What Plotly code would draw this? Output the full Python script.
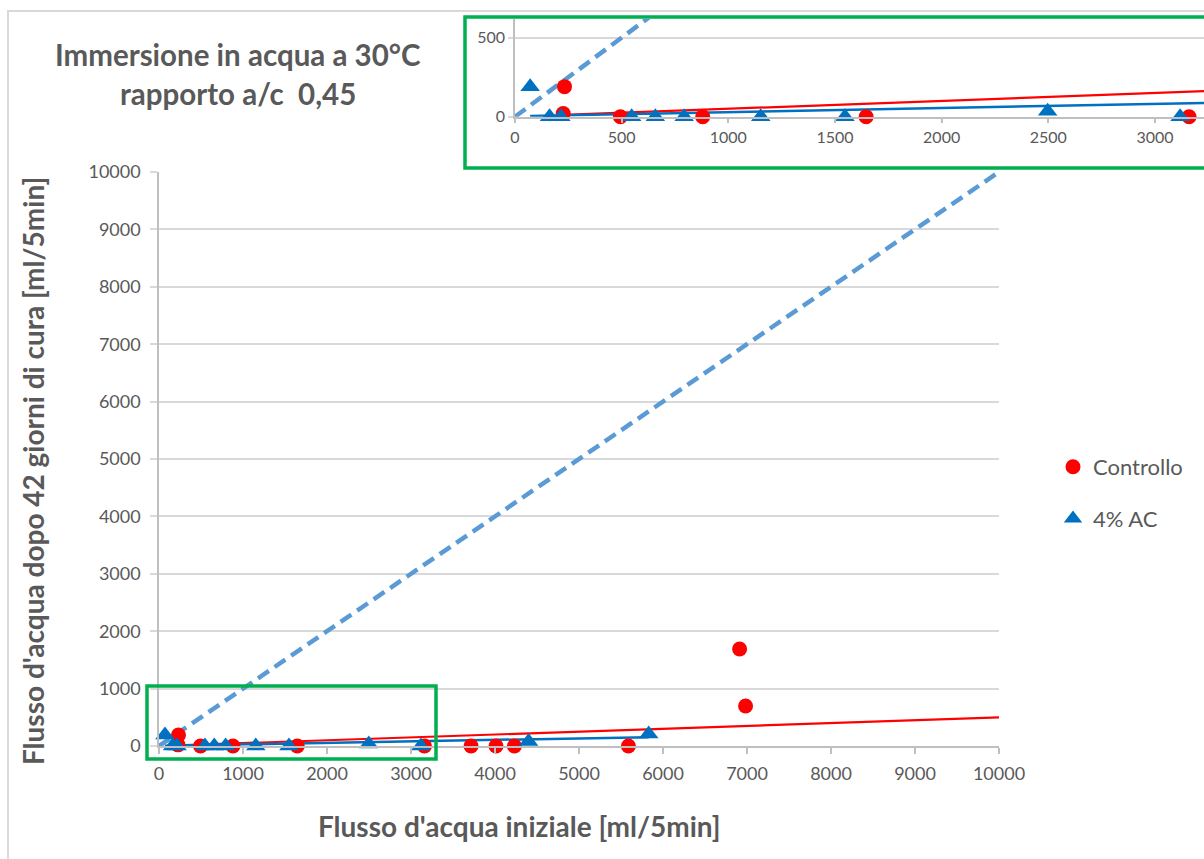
import plotly.graph_objects as go

# --- data -----------------------------------------------------------------
controllo_x = [232, 226, 494, 880, 1646, 3160, 3715, 4012, 4231, 5588, 6912, 6983]
controllo_y = [190, 20, 0, 0, 0, 0, 0, 0, 0, 0, 1690, 698]

ac_x = [71, 162, 215, 547, 658, 793, 1152, 1547, 2497, 3118, 4400, 5830]
ac_y = [190, 0, 0, 0, 0, 0, 0, 0, 35, 0, 80, 210]

# linear trend lines (slope, intercept) and their x extent
controllo_trend = (0.05, 0.0)
controllo_trend_x = [226, 10000]
ac_trend = (0.026, 3.0)
ac_trend_x = [71, 5830]

# 1:1 reference line
bisector_x = [0, 10000]
bisector_y = [0, 10000]

main_ticks = [0, 1000, 2000, 3000, 4000, 5000, 6000, 7000, 8000, 9000, 10000]
inset_xticks = [0, 500, 1000, 1500, 2000, 2500, 3000]
inset_yticks = [0, 500]

# --- styling --------------------------------------------------------------
W, H = 1204, 859
RED = "#FF0000"
BLUE = "#0070C0"
DASH_BLUE = "#5B9BD5"
GREEN = "#00B050"
TXT = "#595959"
GRID = "#D9D9D9"
AXIS = "#BFBFBF"
FONT = "Lato"


def px_x(p):
    """pixel column -> paper fraction"""
    return p / W


def px_y(p):
    """pixel row -> paper fraction"""
    return (H - p) / H


def trend(coef, xs):
    a, b = coef
    return [a * x + b for x in xs]


fig = go.Figure()

for suffix, show in (("", True), ("2", False)):
    xa, ya = "x" + suffix, "y" + suffix
    fig.add_trace(go.Scatter(
        x=bisector_x, y=bisector_y, mode="lines", xaxis=xa, yaxis=ya,
        line=dict(color=DASH_BLUE, width=4.5, dash="13px,7px"),
        showlegend=False, hoverinfo="skip"))
    fig.add_trace(go.Scatter(
        x=controllo_trend_x, y=trend(controllo_trend, controllo_trend_x),
        mode="lines", xaxis=xa, yaxis=ya,
        line=dict(color=RED, width=2.2), showlegend=False, hoverinfo="skip"))
    fig.add_trace(go.Scatter(
        x=ac_trend_x, y=trend(ac_trend, ac_trend_x),
        mode="lines", xaxis=xa, yaxis=ya,
        line=dict(color=BLUE, width=2.5), showlegend=False, hoverinfo="skip"))
    fig.add_trace(go.Scatter(
        x=controllo_x, y=controllo_y, mode="markers", name="Controllo",
        xaxis=xa, yaxis=ya, cliponaxis=False, showlegend=show,
        legendgroup="c", marker=dict(symbol="circle", size=15, color=RED)))
    fig.add_trace(go.Scatter(
        x=ac_x, y=ac_y, mode="markers", name="4% AC",
        xaxis=xa, yaxis=ya, cliponaxis=False, showlegend=show,
        legendgroup="a", marker=dict(symbol="triangle-up", size=17, color=BLUE)))

tickfont = dict(family=FONT, size=18, color=TXT)
inset_tickfont = dict(family=FONT, size=16, color=TXT)

fig.update_layout(
    width=W, height=H,
    margin=dict(l=0, r=0, t=0, b=0, autoexpand=False),
    paper_bgcolor="white", plot_bgcolor="rgba(0,0,0,0)",
    font=dict(family=FONT, color=TXT),
    xaxis=dict(
        domain=[px_x(159), px_x(999)], range=[0, 10000], anchor="y",
        tickvals=main_ticks, tickformat="d", showgrid=False, zeroline=False,
        showline=True, linecolor=AXIS, linewidth=1.5,
        ticks="outside", ticklen=6, tickcolor=AXIS, tickwidth=1.5,
        ticklabelstandoff=5, tickfont=tickfont, automargin=False),
    yaxis=dict(
        domain=[px_y(746), px_y(172)], range=[0, 10000], anchor="x",
        tickvals=main_ticks, tickformat="d", showgrid=True, gridcolor=GRID,
        gridwidth=1.5, zeroline=False, showline=True, linecolor=AXIS,
        linewidth=1.5, ticks="outside", ticklen=7, tickcolor=GRID,
        tickwidth=1.5, ticklabelstandoff=6, tickfont=tickfont,
        automargin=False),
    xaxis2=dict(
        domain=[px_x(515), 1.0], range=[0, 3230], anchor="y2",
        tickvals=inset_xticks, tickformat="d", showgrid=False, zeroline=False,
        showline=True, linecolor=AXIS, linewidth=1.5,
        ticks="outside", ticklen=5, tickcolor=AXIS, tickwidth=1.5,
        tickfont=inset_tickfont, automargin=False),
    yaxis2=dict(
        domain=[px_y(116.7), px_y(18.7)], range=[0, 620], anchor="x2",
        tickvals=inset_yticks, tickformat="d", showgrid=True, gridcolor=GRID,
        gridwidth=1.5, zeroline=False, showline=True, linecolor=AXIS,
        linewidth=1.5, ticks="outside", ticklen=5, tickcolor=GRID,
        tickwidth=1.5, tickfont=inset_tickfont, automargin=False),
    legend=dict(
        x=px_x(1053), y=px_y(446), xanchor="left", yanchor="top",
        font=dict(family=FONT, size=22, color=TXT),
        tracegroupgap=20, bgcolor="rgba(0,0,0,0)", itemwidth=30),
    showlegend=True,
)

# chart frame, inset frame and zoom window
fig.add_shape(type="rect", xref="paper", yref="paper",
              x0=px_x(8), x1=1.05, y0=-0.05, y1=px_y(11),
              line=dict(color=GRID, width=2), fillcolor="rgba(0,0,0,0)",
              layer="below")
fig.add_shape(type="rect", xref="paper", yref="paper",
              x0=px_x(465), x1=1.02, y0=px_y(168), y1=px_y(17),
              line=dict(color=GREEN, width=3.5), fillcolor="white",
              layer="below")
fig.add_shape(type="rect", xref="paper", yref="paper",
              x0=px_x(147), x1=px_x(436), y0=px_y(759), y1=px_y(686),
              line=dict(color=GREEN, width=3.5), fillcolor="rgba(0,0,0,0)")


def label(text, x, y, size, angle=0):
    fig.add_annotation(text=text, xref="paper", yref="paper",
                       x=px_x(x), y=px_y(y), xanchor="center", yanchor="middle",
                       showarrow=False, textangle=angle,
                       font=dict(family=FONT, size=size, color=TXT))


label("<b>Immersione in acqua a 30°C</b>", 238, 55, 29.5)
label("<b>rapporto a/c  0,45</b>", 238, 93, 29.5)
label("<b>Flusso d'acqua iniziale [ml/5min]</b>", 519, 826, 28)
label("<b>Flusso d'acqua dopo 42 giorni di cura [ml/5min]</b>", 33, 471, 28, -90)

fig.write_html("out.html")
